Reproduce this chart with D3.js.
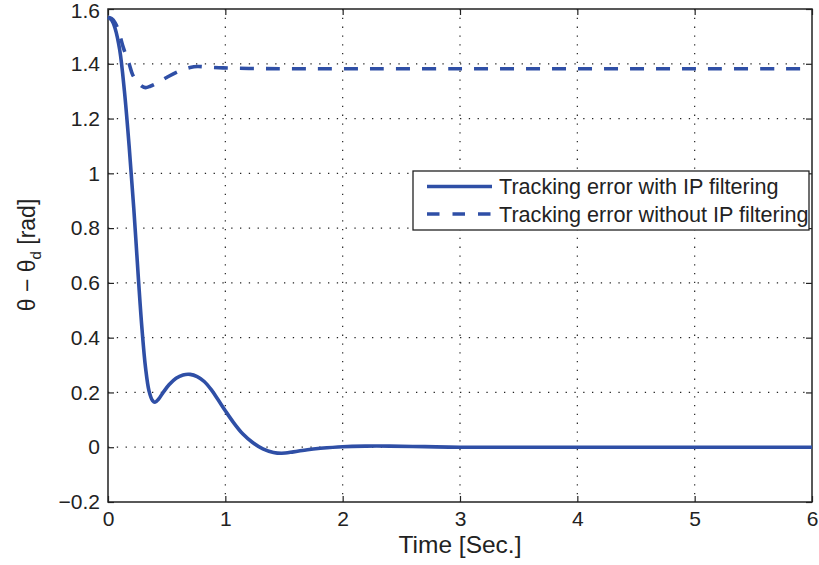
<!DOCTYPE html>
<html><head><meta charset="utf-8">
<script src="https://cdn.jsdelivr.net/npm/d3@7"></script>
<style>body{margin:0;background:#fff;} svg{display:block;font-family:"Liberation Sans",Arial,Helvetica,sans-serif;}</style>
</head><body>
<script>
const xTicks = [0,1,2,3,4,5,6];
const yTicks = [-0.2,0,0.2,0.4,0.6,0.8,1,1.2,1.4,1.6];
const solidT = [0,0.03,0.06,0.1,0.14,0.18,0.22,0.26,0.29,0.32,0.35,0.38,0.40,0.43,0.47,0.52,0.58,0.64,0.70,0.76,0.82,0.88,0.94,1.0,1.07,1.15,1.23,1.32,1.41,1.48,1.58,1.7,1.81,2.0,2.2,2.4,2.7,3.0,4,5,6];
const solidV = [1.57,1.56,1.53,1.45,1.30,1.10,0.87,0.61,0.43,0.29,0.205,0.17,0.164,0.175,0.2,0.228,0.252,0.264,0.266,0.258,0.24,0.21,0.172,0.133,0.09,0.048,0.018,-0.006,-0.019,-0.022,-0.017,-0.009,-0.004,0.002,0.004,0.004,0.002,0,0,0,0];
const dashedT = [0,0.03,0.06,0.09,0.13,0.18,0.21,0.25,0.29,0.32,0.36,0.42,0.5,0.6,0.7,0.76,0.85,0.98,1.2,1.5,2,3,4,5,6];
const dashedV = [1.57,1.565,1.55,1.52,1.46,1.40,1.36,1.335,1.318,1.313,1.318,1.33,1.35,1.372,1.386,1.39,1.388,1.385,1.383,1.382,1.382,1.382,1.382,1.382,1.382];
const legendLabels = ["Tracking error with IP filtering","Tracking error without IP filtering"];

const W=819,H=565, L=108,R=812,T=9,B=502;
const color="#2f4fa6";
const svg=d3.select("body").append("svg").attr("width",W).attr("height",H);
const x=d3.scaleLinear().domain([0,6]).range([L,R]);
const y=d3.scaleLinear().domain([-0.2,1.6]).range([B,T]);

// grid
const g=svg.append("g");
g.selectAll(".gx").data(xTicks.slice(1,-1)).enter().append("line")
 .attr("x1",d=>x(d)).attr("x2",d=>x(d)).attr("y1",T).attr("y2",B)
 .attr("stroke","#222").attr("stroke-width",1.2).attr("stroke-dasharray","1.3,7.5");
g.selectAll(".gy").data(yTicks.slice(1,-1)).enter().append("line")
 .attr("y1",d=>y(d)).attr("y2",d=>y(d)).attr("x1",L).attr("x2",R)
 .attr("stroke","#222").attr("stroke-width",1.2).attr("stroke-dasharray","1.3,7.5");

// axes
const fmt=d=>d3.format("")(+d.toFixed(1));
const ax=svg.append("g").attr("transform",`translate(0,${B})`).call(d3.axisBottom(x).tickValues(xTicks).tickSize(-6).tickPadding(9).tickFormat(fmt));
const ay=svg.append("g").attr("transform",`translate(${L},0)`).call(d3.axisLeft(y).tickValues(yTicks).tickSize(-6).tickPadding(8).tickFormat(fmt));
const axT=svg.append("g").attr("transform",`translate(0,${T})`).call(d3.axisTop(x).tickValues(xTicks).tickSize(-6).tickFormat(""));
const ayR=svg.append("g").attr("transform",`translate(${R},0)`).call(d3.axisRight(y).tickValues(yTicks).tickSize(-6).tickFormat(""));
[ax,ay,axT,ayR].forEach(a=>{a.select(".domain").remove();a.selectAll("line").attr("stroke","#222").attr("stroke-width",1.2);a.selectAll("text").attr("font-size",21).attr("fill","#222").attr("font-family","Liberation Sans, Arial, sans-serif");});
ay.selectAll(".tick text").filter(d=>d===1.6).attr("dy","0.42em");
svg.append("rect").attr("x",L).attr("y",T).attr("width",R-L).attr("height",B-T).attr("fill","none").attr("stroke","#222").attr("stroke-width",1.5);

// lines
const line=d3.line().x(d=>x(d[0])).y(d=>y(d[1])).curve(d3.curveCatmullRom.alpha(0.5));
svg.append("path").datum(solidT.map((t,i)=>[t,solidV[i]])).attr("d",line).attr("fill","none").attr("stroke",color).attr("stroke-width",3.6).attr("stroke-linejoin","round");
svg.append("path").datum(dashedT.map((t,i)=>[t,dashedV[i]])).attr("d",line).attr("fill","none").attr("stroke",color).attr("stroke-width",3.6).attr("stroke-dasharray","14,12");

// legend
const lg=svg.append("g");
lg.append("rect").attr("x",413).attr("y",171).attr("width",396).attr("height",59).attr("fill","#fff").attr("stroke","#222").attr("stroke-width",1.3);
[186.5,214].forEach((yy,i)=>{
  lg.append("line").attr("x1",427).attr("x2",492).attr("y1",yy).attr("y2",yy).attr("stroke",color).attr("stroke-width",3.6).attr("stroke-dasharray",i?"12.5,13":null);
  lg.append("text").attr("x",499).attr("y",yy+7.5).attr("font-size",21.6).attr("fill","#222").text(legendLabels[i]);
});

// axis labels
svg.append("text").attr("x",460).attr("y",553).attr("text-anchor","middle").attr("font-size",24.5).attr("fill","#222").text("Time [Sec.]");
const yl=svg.append("text").attr("transform","translate(35,255) rotate(-90)").attr("text-anchor","middle").attr("font-size",23).attr("fill","#222");
yl.append("tspan").text("θ − θ");
yl.append("tspan").attr("font-size",15).attr("dy",6).text("d");
yl.append("tspan").attr("dy",-6).text(" [rad]");
</script>
</body></html>
